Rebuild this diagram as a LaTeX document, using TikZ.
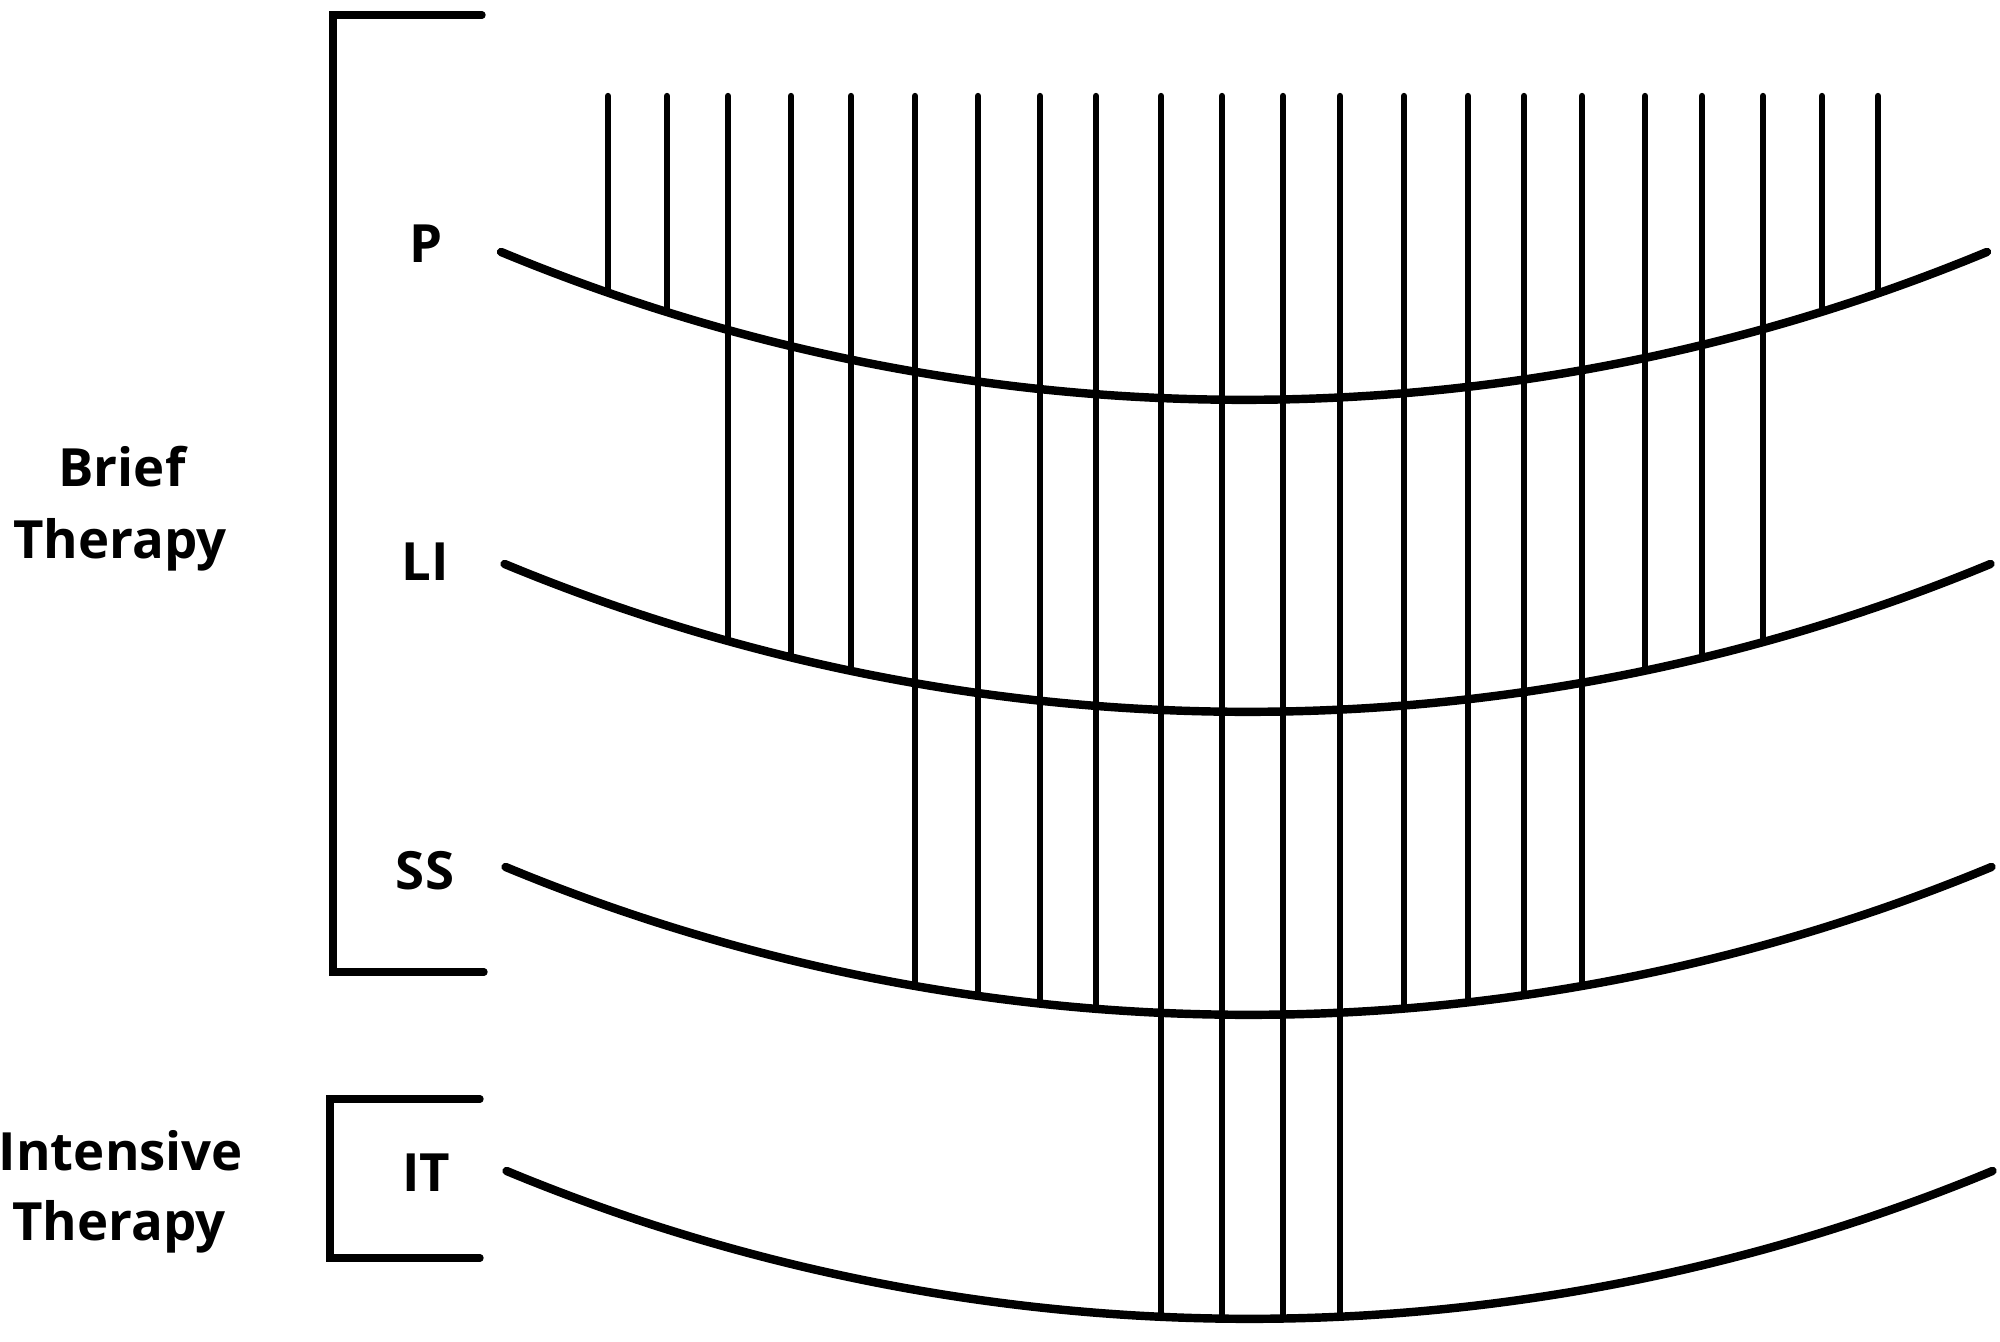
\documentclass[tikz,border=0pt]{standalone}
\usepackage{fontspec}
\setmainfont{Open Sans}
\begin{document}
\begin{tikzpicture}[
  curvestroke/.style={line width=2.4pt, line cap=round},
  vstroke/.style={line width=1.8pt, line cap=round},
  bracketstroke/.style={line width=2.1pt, line cap=round, line join=miter},
  lab/.style={inner sep=0pt, anchor=base, font=\fontsize{15pt}{18pt}\selectfont\bfseries}
]
\useasboundingbox (0,0) rectangle (20,13.41);
% radius of every arc and half angle
\def\R{19.4}
\def\th{22.52}
% curves: centre x, bottom y
\def\Pcx{12.44}\def\Pyb{9.41}
\def\Lcx{12.475}\def\Lyb{6.29}
\def\Scx{12.485}\def\Syb{3.26}
\def\Icx{12.495}\def\Iyb{0.22}
\foreach \cx/\yb/\nm in {\Pcx/\Pyb/P, \Lcx/\Lyb/LI, \Scx/\Syb/SS, \Icx/\Iyb/IT}{
  \coordinate (c\nm) at (\cx,\yb+\R);
  \draw[curvestroke] ([shift={(270-\th:\R)}]c\nm) arc[start angle=270-\th, end angle=270+\th, radius=\R];
}
% vertical lines
\def\top{12.45}
\foreach \x in {6.08,6.67,18.22,18.78}{
  \pgfmathsetmacro\ye{\Pyb+\R-sqrt(\R*\R-(\x-\Pcx)*(\x-\Pcx))}
  \draw[vstroke] (\x,\top) -- (\x,\ye);
}
\foreach \x in {7.28,7.91,8.51,16.45,17.02,17.63}{
  \pgfmathsetmacro\ye{\Lyb+\R-sqrt(\R*\R-(\x-\Lcx)*(\x-\Lcx))}
  \draw[vstroke] (\x,\top) -- (\x,\ye);
}
\foreach \x in {9.15,9.78,10.40,10.96,14.04,14.68,15.24,15.82}{
  \pgfmathsetmacro\ye{\Syb+\R-sqrt(\R*\R-(\x-\Scx)*(\x-\Scx))}
  \draw[vstroke] (\x,\top) -- (\x,\ye);
}
\foreach \x in {11.61,12.22,12.83,13.40}{
  \pgfmathsetmacro\ye{\Iyb+\R-sqrt(\R*\R-(\x-\Icx)*(\x-\Icx))}
  \draw[vstroke] (\x,\top) -- (\x,\ye);
}
% brackets
\draw[bracketstroke] (4.82,13.26) -- (3.33,13.26) -- (3.33,3.69) -- (4.84,3.69);
\draw[bracketstroke] (4.80,2.42) -- (3.30,2.42) -- (3.30,0.83) -- (4.80,0.83);
% labels
\node[lab] (lP) at (4.26,10.78) {P};
\node[lab] (lLI) at (4.25,7.61) {LI};
\node[lab] (lSS) at (4.25,4.52) {SS};
\node[lab] (lIT) at (4.26,1.50) {IT};
\node[lab] (bt1) at (1.22,8.543) {Brief};
\node[lab] (bt2) at (1.20,7.83) {Therapy};
\node[lab] (it1) at (1.21,1.71) {Intensive};
\node[lab] (it2) at (1.19,1.01) {Therapy};
\end{tikzpicture}
\end{document}
